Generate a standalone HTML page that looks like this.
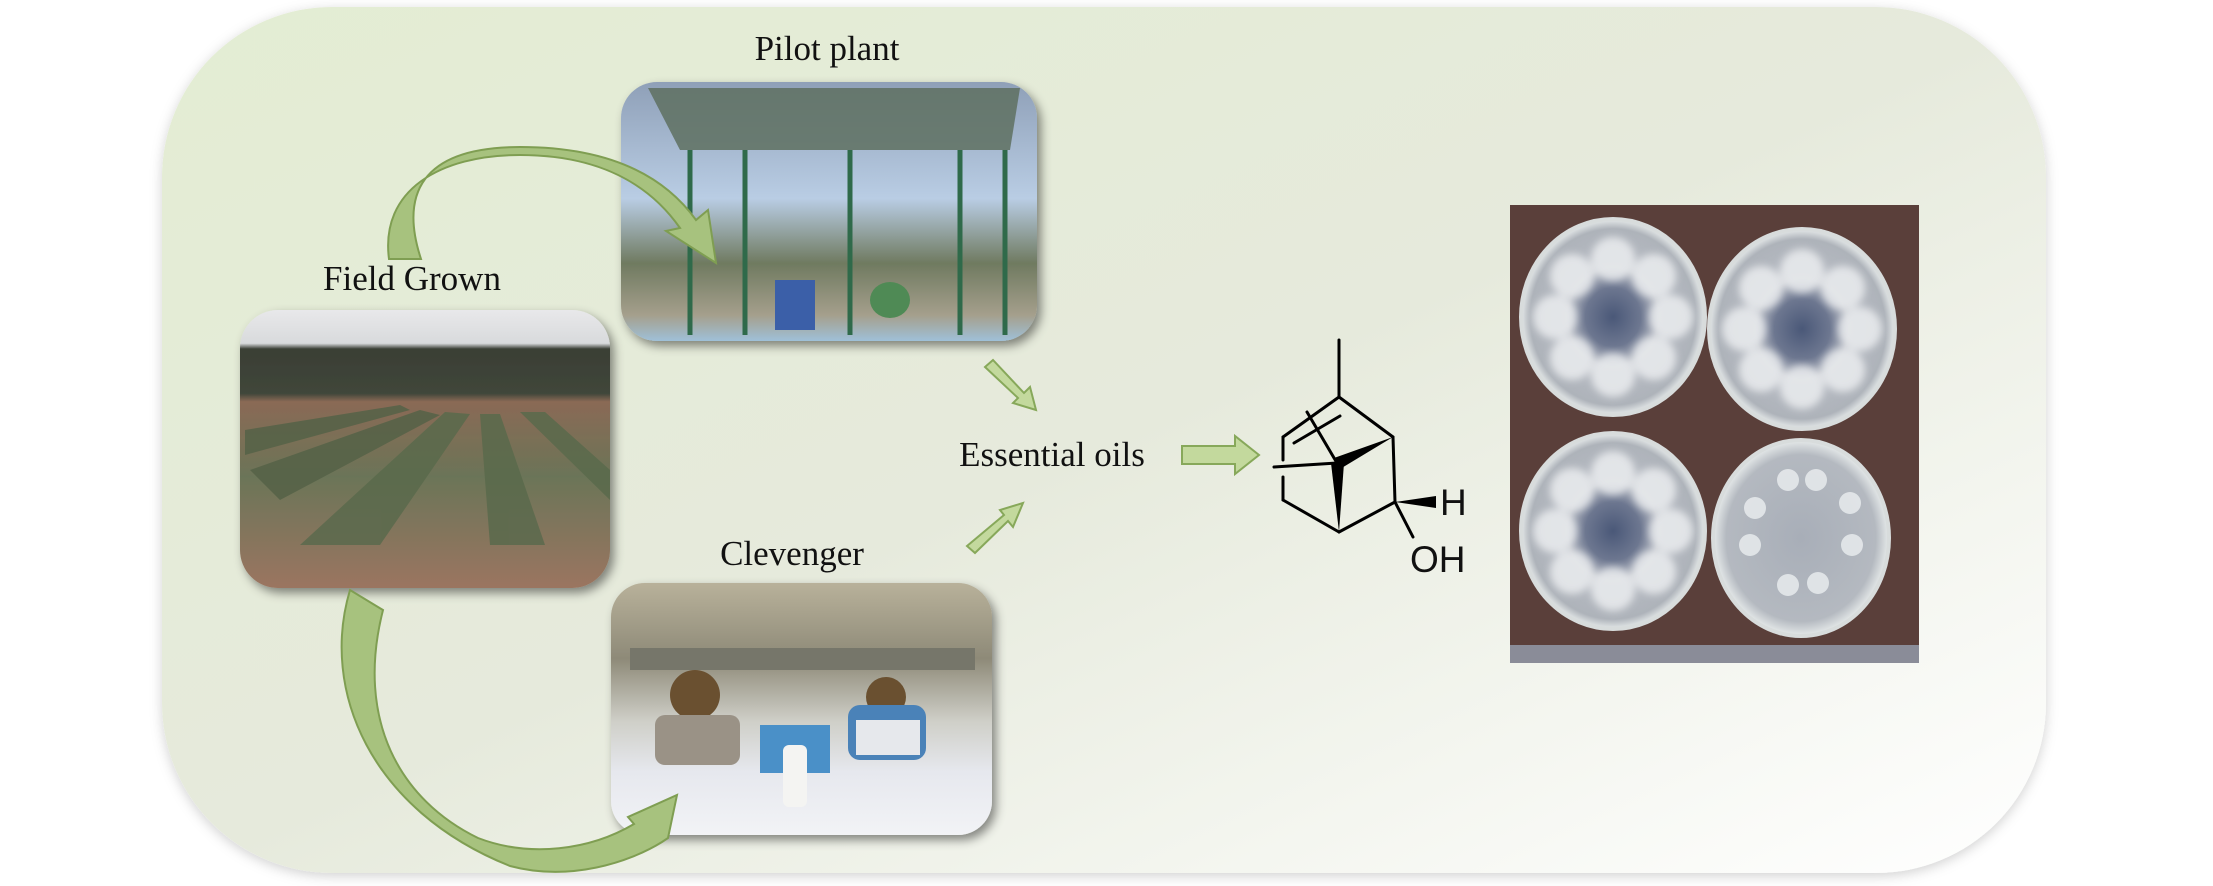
<!DOCTYPE html>
<html><head><meta charset="utf-8"><style>
html,body{margin:0;padding:0;background:#fff;}
svg{display:block;}
text{font-family:"Liberation Serif",serif;fill:#111;}
</style></head><body>
<svg width="2213" height="886" viewBox="0 0 2213 886" xmlns="http://www.w3.org/2000/svg">
<defs>
<linearGradient id="bg" x1="0" y1="0" x2="1" y2="1">
<stop offset="0" stop-color="#e3edd3"/><stop offset="0.5" stop-color="#e6eadc"/><stop offset="1" stop-color="#ffffff"/>
</linearGradient>
<linearGradient id="field" x1="0" y1="0" x2="0" y2="1">
<stop offset="0" stop-color="#e8e8ea"/><stop offset="0.12" stop-color="#d8dadc"/><stop offset="0.14" stop-color="#3a3f35"/><stop offset="0.3" stop-color="#40463a"/><stop offset="0.33" stop-color="#8a6a55"/><stop offset="0.6" stop-color="#6b7458"/><stop offset="1" stop-color="#9b7560"/>
</linearGradient>
<linearGradient id="pilot" x1="0" y1="0" x2="0" y2="1">
<stop offset="0" stop-color="#8fa0b8"/><stop offset="0.45" stop-color="#b9cde4"/><stop offset="0.7" stop-color="#6f7a60"/><stop offset="0.9" stop-color="#a59f8c"/><stop offset="1" stop-color="#9fc0d8"/>
</linearGradient>
<linearGradient id="clev" x1="0" y1="0" x2="0" y2="1">
<stop offset="0" stop-color="#b8b19a"/><stop offset="0.3" stop-color="#8e8a78"/><stop offset="0.55" stop-color="#cfcfc8"/><stop offset="0.75" stop-color="#e6e8ee"/><stop offset="1" stop-color="#f2f3f6"/>
</linearGradient>
<radialGradient id="dish" cx="0.5" cy="0.5" r="0.5">
<stop offset="0" stop-color="#4a5878"/><stop offset="0.3" stop-color="#6d7790"/><stop offset="0.5" stop-color="#b8bcc4"/><stop offset="0.9" stop-color="#aeb3ba"/><stop offset="1" stop-color="#e6eaea"/>
</radialGradient>
<radialGradient id="dish4" cx="0.5" cy="0.5" r="0.5">
<stop offset="0" stop-color="#a8aeb8"/><stop offset="0.85" stop-color="#b4b9c0"/><stop offset="1" stop-color="#e6eaea"/>
</radialGradient>
<filter id="sh" x="-10%" y="-10%" width="125%" height="125%"><feDropShadow dx="4" dy="5" stdDeviation="5" flood-color="#000" flood-opacity="0.45"/></filter>
<filter id="bgsh" x="-5%" y="-5%" width="110%" height="110%"><feDropShadow dx="0" dy="3" stdDeviation="6" flood-color="#000" flood-opacity="0.18"/></filter>
<filter id="blur"><feGaussianBlur stdDeviation="4"/></filter>
</defs>

<rect x="162" y="7" width="1884" height="866" rx="170" fill="url(#bg)" filter="url(#bgsh)"/>

<text x="827" y="60" font-size="35" text-anchor="middle">Pilot plant</text>
<text x="412" y="290" font-size="35" text-anchor="middle">Field Grown</text>
<text x="792" y="565" font-size="35" text-anchor="middle">Clevenger</text>
<text x="1052" y="466" font-size="35" text-anchor="middle">Essential oils</text>

<!-- Field photo -->
<g filter="url(#sh)">
<rect x="240" y="310" width="370" height="278" rx="38" fill="url(#field)"/>
</g>
<g opacity="0.85">
<path d="M250 470 L420 410 L440 415 L280 500 Z" fill="#556247"/>
<path d="M300 545 L445 412 L470 414 L380 545 Z" fill="#5a6a4c"/>
<path d="M490 545 L480 414 L500 414 L545 545 Z" fill="#5a6a4c"/>
<path d="M520 412 L545 412 L610 470 L610 500 Z" fill="#5a6a4c"/>
<path d="M245 430 L400 405 L410 410 L245 455 Z" fill="#556247"/>
</g>

<!-- Pilot plant photo -->
<g filter="url(#sh)">
<rect x="621" y="82" width="416" height="259" rx="36" fill="url(#pilot)"/>
</g>
<path d="M648 88 L1020 88 L1010 150 L680 150 Z" fill="#5e7060" opacity="0.85"/>
<g stroke="#2f6a4a" stroke-width="5">
<line x1="690" y1="150" x2="690" y2="335"/><line x1="745" y1="150" x2="745" y2="335"/>
<line x1="850" y1="150" x2="850" y2="335"/><line x1="960" y1="150" x2="960" y2="335"/>
<line x1="1005" y1="150" x2="1005" y2="335"/>
</g>
<rect x="775" y="280" width="40" height="50" fill="#3b5fa8"/>
<ellipse cx="890" cy="300" rx="20" ry="18" fill="#4f8a55"/>

<!-- Clevenger photo -->
<g filter="url(#sh)">
<rect x="611" y="583" width="381" height="252" rx="34" fill="url(#clev)"/>
</g>
<rect x="630" y="648" width="345" height="22" fill="#76766a"/>
<circle cx="695" cy="695" r="25" fill="#6a5030"/>
<rect x="655" y="715" width="85" height="50" rx="10" fill="#9a9286"/>
<circle cx="886" cy="697" r="20" fill="#6a5030"/>
<rect x="848" y="705" width="78" height="55" rx="12" fill="#4a82b8"/>
<rect x="856" y="720" width="64" height="35" fill="#e6e8ec"/>
<rect x="760" y="725" width="70" height="48" fill="#4a90c8"/>
<rect x="783" y="745" width="24" height="62" rx="6" fill="#f4f4f2"/>

<!-- Petri photo -->
<rect x="1510" y="205" width="409" height="458" fill="#5a3f3a"/>
<rect x="1510" y="645" width="409" height="18" fill="#8a8c98"/>
<ellipse cx="1613" cy="317" rx="92" ry="98" fill="url(#dish)" stroke="#d8dcdc" stroke-width="4"/>
<ellipse cx="1802" cy="329" rx="93" ry="100" fill="url(#dish)" stroke="#d8dcdc" stroke-width="4"/>
<ellipse cx="1613" cy="531" rx="92" ry="98" fill="url(#dish)" stroke="#d8dcdc" stroke-width="4"/>
<ellipse cx="1801" cy="538" rx="88" ry="98" fill="url(#dish4)" stroke="#d8dcdc" stroke-width="4"/>
<g fill="#eef0f2" opacity="0.8" filter="url(#blur)">
<g transform="translate(1613,317)"><circle cx="0" cy="-58" r="22"/><circle cx="41" cy="-41" r="22"/><circle cx="58" cy="0" r="22"/><circle cx="41" cy="41" r="22"/><circle cx="0" cy="58" r="22"/><circle cx="-41" cy="41" r="22"/><circle cx="-58" cy="0" r="22"/><circle cx="-41" cy="-41" r="22"/></g>
<g transform="translate(1802,329)"><circle cx="0" cy="-58" r="22"/><circle cx="41" cy="-41" r="22"/><circle cx="58" cy="0" r="22"/><circle cx="41" cy="41" r="22"/><circle cx="0" cy="58" r="22"/><circle cx="-41" cy="41" r="22"/><circle cx="-58" cy="0" r="22"/><circle cx="-41" cy="-41" r="22"/></g>
<g transform="translate(1613,531)"><circle cx="0" cy="-58" r="22"/><circle cx="41" cy="-41" r="22"/><circle cx="58" cy="0" r="22"/><circle cx="41" cy="41" r="22"/><circle cx="0" cy="58" r="22"/><circle cx="-41" cy="41" r="22"/><circle cx="-58" cy="0" r="22"/><circle cx="-41" cy="-41" r="22"/></g>
</g>
<g fill="#e8ecee" opacity="0.85">
<circle cx="1788" cy="480" r="11"/><circle cx="1816" cy="480" r="11"/><circle cx="1850" cy="503" r="11"/>
<circle cx="1755" cy="508" r="11"/><circle cx="1750" cy="545" r="11"/><circle cx="1852" cy="545" r="11"/>
<circle cx="1788" cy="585" r="11"/><circle cx="1818" cy="583" r="11"/>
</g>

<!-- top curved arrow -->
<path d="M389 259 C380 190 440 155 520 155 C600 155 650 185 680 228 L666 231 L716 263 L708 210 L696 220 C660 170 600 147 520 147 C420 147 400 195 421 259 Z" fill="#a7c27e" stroke="#7f9e52" stroke-width="2"/>

<!-- bottom curved arrow -->
<path d="M350 590 C320 690 370 810 510 866 C570 882 630 862 662 842 L668 838 L677 795 L628 817 L634 824 C590 850 530 858 478 838 C400 800 355 720 383 610 Z" fill="#a7c27e" stroke="#7f9e52" stroke-width="2"/>

<!-- small arrows -->
<g fill="#c3d99d" stroke="#87a85a" stroke-width="2">
<path d="M985 367 L993 360 L1024 393 L1030 387 L1036 410 L1013 403 L1018 398 Z"/>
<path d="M967 546 L975 553 L1008 521 L1013 527 L1023 503 L1000 510 L1004 515 Z"/>
<path d="M1182 446 L1235 446 L1235 436 L1259 455 L1235 474 L1235 464 L1182 464 Z"/>
</g>

<!-- molecule -->
<g stroke="#000" stroke-width="3" fill="none" stroke-linecap="round">
<line x1="1339" y1="340" x2="1339" y2="397"/>
<line x1="1339" y1="397" x2="1283" y2="437"/>
<line x1="1294" y1="443" x2="1340" y2="416"/>
<line x1="1339" y1="397" x2="1393" y2="437"/>
<line x1="1283" y1="437" x2="1283" y2="460"/>
<line x1="1283" y1="477" x2="1283" y2="500"/>
<line x1="1283" y1="500" x2="1339" y2="532"/>
<line x1="1339" y1="532" x2="1395" y2="502"/>
<line x1="1393" y1="437" x2="1395" y2="502"/>
<line x1="1307" y1="412" x2="1337" y2="463"/>
<line x1="1274" y1="467" x2="1337" y2="463"/>
<line x1="1395" y1="502" x2="1413" y2="537"/>
</g>
<path d="M1393 437 L1334 458 L1340 469 Z" fill="#000"/>
<path d="M1339 532 L1331 463 L1344 463 Z" fill="#000"/>
<path d="M1395 502 L1436 496 L1436 508 Z" fill="#000"/>
<text x="1440" y="515" font-size="37" style="font-family:'Liberation Sans',sans-serif">H</text>
<text x="1410" y="572" font-size="37" style="font-family:'Liberation Sans',sans-serif">OH</text>
</svg>
</body></html>
